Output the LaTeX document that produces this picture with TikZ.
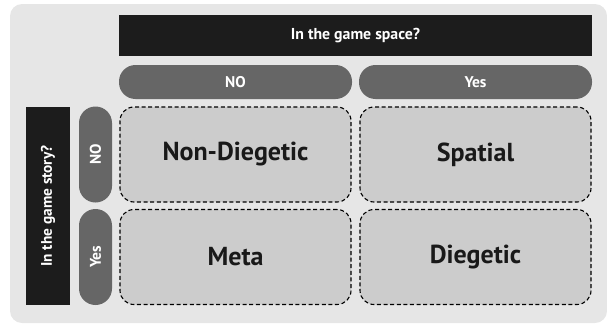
\documentclass[tikz,border=0pt]{standalone}
\usepackage{fontspec}
\setmainfont{PT Sans}
\usetikzlibrary{positioning}

\definecolor{panelgray}{HTML}{E6E6E6}
\definecolor{barblack}{HTML}{1C1C1C}
\definecolor{pillgray}{HTML}{666666}
\definecolor{cellgray}{HTML}{CCCCCC}

\begin{document}
\begin{tikzpicture}[x=1pt, y=1pt,
    header/.style={fill=barblack, draw=none, text=white, inner sep=0pt,
      font=\bfseries\fontsize{15.8}{18}\selectfont},
    pill/.style={fill=pillgray, draw=none, text=white, inner sep=0pt,
      rounded corners=16.5pt, font=\bfseries\fontsize{15.5}{18}\selectfont},
    cell/.style={fill=cellgray, draw=black, dashed, line width=1.1pt,
      dash pattern=on 4pt off 2.6pt, rounded corners=14pt, inner sep=0pt,
      minimum width=231pt, minimum height=95pt, text=black!90,
      font=\bfseries\fontsize{26}{29}\selectfont}]

  % --- GEOMETRIA ---
  \def\xA{235.5}   % centro da coluna NO
  \def\xB{475.5}   % centro da coluna Yes
  \def\yA{-154.5}  % centro da linha NO
  \def\yB{-257}    % centro da linha Yes

  \useasboundingbox (0, 0) rectangle (607, -324);

  % fundo
  \fill[panelgray, rounded corners=12pt] (10, -4) rectangle (607, -323);

  % --- CABEÇALHO (espaço do jogo) ---
  \node[header, minimum width=473pt, minimum height=41pt] (space) at (355.5, -35.5) {In the game space?};
  \node[pill, minimum width=233pt, minimum height=34pt] (spNo)  at (\xA, -82) {NO};
  \node[pill, minimum width=233pt, minimum height=34pt] (spYes) at (\xB, -82) {Yes};

  % --- CABEÇALHO LATERAL (história do jogo) ---
  \node[header, minimum width=198pt, minimum height=44pt, rotate=90,
    font=\bfseries\fontsize{15.3}{18}\selectfont] (story) at (48, -206) {In the game story?};
  \node[pill, minimum width=96pt, minimum height=33pt, rotate=90] (stNo)  at (95.5, \yA) {NO};
  \node[pill, minimum width=96pt, minimum height=33pt, rotate=90] (stYes) at (95.5, \yB) {Yes};

  % --- CÉLULAS ---
  \node[cell] (nondieg)  at (\xA, \yA) {Non-Diegetic};
  \node[cell] (spatial)  at (\xB, \yA) {Spatial};
  \node[cell] (meta)     at (\xA, \yB) {Meta};
  \node[cell] (diegetic) at (\xB, \yB) {Diegetic};

\end{tikzpicture}
\end{document}
